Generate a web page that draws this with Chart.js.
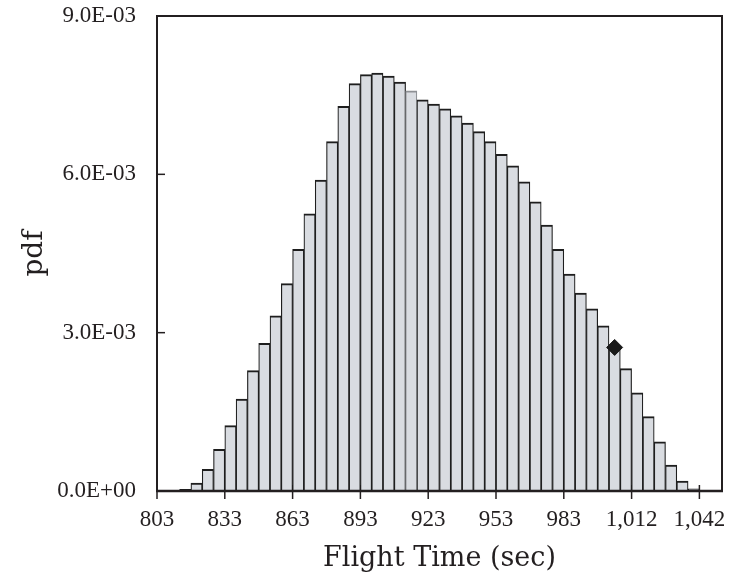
<!DOCTYPE html>
<html>
<head>
<meta charset="utf-8">
<script src="https://cdn.jsdelivr.net/npm/chart.js@4/dist/chart.umd.min.js"></script>
<style>
html,body{margin:0;padding:0;background:#ffffff;}
#wrap{width:734px;height:577px;position:relative;}
</style>
</head>
<body>
<div id="wrap"><canvas id="c"></canvas></div>
<script>
// ---- data ----
const binCount = 50;
const pdfValues = [
  0.00000, 0.00001, 0.00003, 0.00015, 0.00041, 0.00079, 0.00124, 0.00174, 0.00228, 0.00280,
  0.00332, 0.00393, 0.00458, 0.00525, 0.00589, 0.00662, 0.00729, 0.00772, 0.00789, 0.00792,
  0.00786, 0.00775, 0.00758, 0.00741, 0.00733, 0.00724, 0.00711, 0.00697, 0.00681, 0.00662,
  0.00638, 0.00616, 0.00586, 0.00548, 0.00504, 0.00458, 0.00411, 0.00375, 0.00345, 0.00313,
  0.00270, 0.00232, 0.00186, 0.00141, 0.00093, 0.00049, 0.00019, 0.00004, 0.00000, 0.00000
];
const xTickBins   = [0, 6, 12, 18, 24, 30, 36, 42, 48];
const xTickLabels = ['803', '833', '863', '893', '923', '953', '983', '1,012', '1,042'];
const yTickValues = [0, 0.003, 0.006, 0.009];
const yTickLabels = ['0.0E+00', '3.0E-03', '6.0E-03', '9.0E-03'];
const markerBin   = 40;
const markerValue = 0.00272;
const greyEdgeBin = 22;
const xTitle = 'Flight Time (sec)';
const yTitle = 'pdf';

// ---- styles ----
const INK = '#231f20';
const BAR_FILL = '#d9dce1';
const TICK_FONT = {family: "'Liberation Serif', serif", size: 23};

const barData = pdfValues.map((v, i) => ({x: i + 0.5, y: v}));

const framePlugin = {
  id: 'frame',
  beforeDatasetsDraw(chart) {
    const {ctx, chartArea: a, scales: {x}} = chart;
    ctx.save();
    ctx.strokeStyle = INK;
    ctx.lineWidth = 1.5;
    xTickBins.forEach(v => {
      const px = x.getPixelForValue(v);
      ctx.beginPath();
      ctx.moveTo(px, a.bottom - 6);
      ctx.lineTo(px, a.bottom + 8);
      ctx.stroke();
    });
    ctx.restore();
  },
  afterDatasetsDraw(chart) {
    const {ctx, chartArea: a, scales: {y}} = chart;
    ctx.save();
    ctx.strokeStyle = INK;
    ctx.lineWidth = 2;
    ctx.beginPath();
    ctx.moveTo(a.left, a.bottom);
    ctx.lineTo(a.left, a.top);
    ctx.lineTo(a.right, a.top);
    ctx.lineTo(a.right, a.bottom);
    ctx.stroke();
    ctx.lineWidth = 2.6;
    ctx.beginPath();
    ctx.moveTo(a.left - 1, a.bottom);
    ctx.lineTo(a.right + 1, a.bottom);
    ctx.stroke();
    ctx.lineWidth = 1.5;
    yTickValues.forEach(v => {
      const py = y.getPixelForValue(v);
      ctx.beginPath();
      ctx.moveTo(a.left, py);
      ctx.lineTo(a.left + 8, py);
      ctx.stroke();
    });
    ctx.restore();
  }
};

function noScalePadding(s) {
  s.paddingTop = 0; s.paddingBottom = 0; s.paddingLeft = 0; s.paddingRight = 0;
}

new Chart(document.getElementById('c'), {
  type: 'bar',
  data: {
    datasets: [
      {
        type: 'bar',
        data: barData,
        backgroundColor: BAR_FILL,
        borderColor: ctx => ctx.dataIndex === greyEdgeBin ? '#8e9195' : '#1e1e1e',
        borderWidth: {top: 2, left: 1.2, right: 1.2, bottom: 0},
        borderSkipped: 'start',
        barPercentage: 1,
        categoryPercentage: 1,
        order: 2
      },
      {
        type: 'scatter',
        data: [{x: markerBin + 0.5, y: markerValue}],
        pointStyle: 'rectRot',
        pointRadius: 8,
        backgroundColor: '#1a1a1a',
        borderColor: '#1a1a1a',
        borderWidth: 1,
        order: 1
      }
    ]
  },
  options: {
    responsive: true,
    maintainAspectRatio: false,
    devicePixelRatio: 1,
    animation: false,
    layout: {padding: {top: 16, right: 12, left: 0, bottom: 0}},
    plugins: {legend: {display: false}, tooltip: {enabled: false}},
    scales: {
      x: {
        type: 'linear',
        min: 0,
        max: binCount,
        offset: false,
        afterBuildTicks: s => { s.ticks = xTickBins.map(v => ({value: v})); },
        afterFit: s => { s.height = 86; noScalePadding(s); },
        ticks: {
          autoSkip: false,
          maxRotation: 0,
          padding: 15,
          font: TICK_FONT,
          color: INK,
          callback: (v, i) => xTickLabels[i]
        },
        grid: {display: false, drawTicks: false},
        border: {display: false},
        title: {
          display: true,
          text: xTitle,
          color: INK,
          font: {family: "'DejaVu Serif', serif", size: 27},
          padding: {top: 0, bottom: 2}
        }
      },
      y: {
        type: 'linear',
        min: 0,
        max: 0.009,
        afterBuildTicks: s => { s.ticks = yTickValues.map(v => ({value: v})); },
        afterFit: s => { s.width = 157; noScalePadding(s); },
        ticks: {
          padding: 21,
          font: TICK_FONT,
          color: INK,
          callback: (v, i) => yTickLabels[i]
        },
        grid: {display: false, drawTicks: false},
        border: {display: false},
        title: {
          display: true,
          text: yTitle,
          color: INK,
          font: {family: "'DejaVu Serif', serif", size: 28},
          padding: {top: 18, bottom: 0}
        }
      }
    }
  },
  plugins: [framePlugin]
});
</script>
</body>
</html>
